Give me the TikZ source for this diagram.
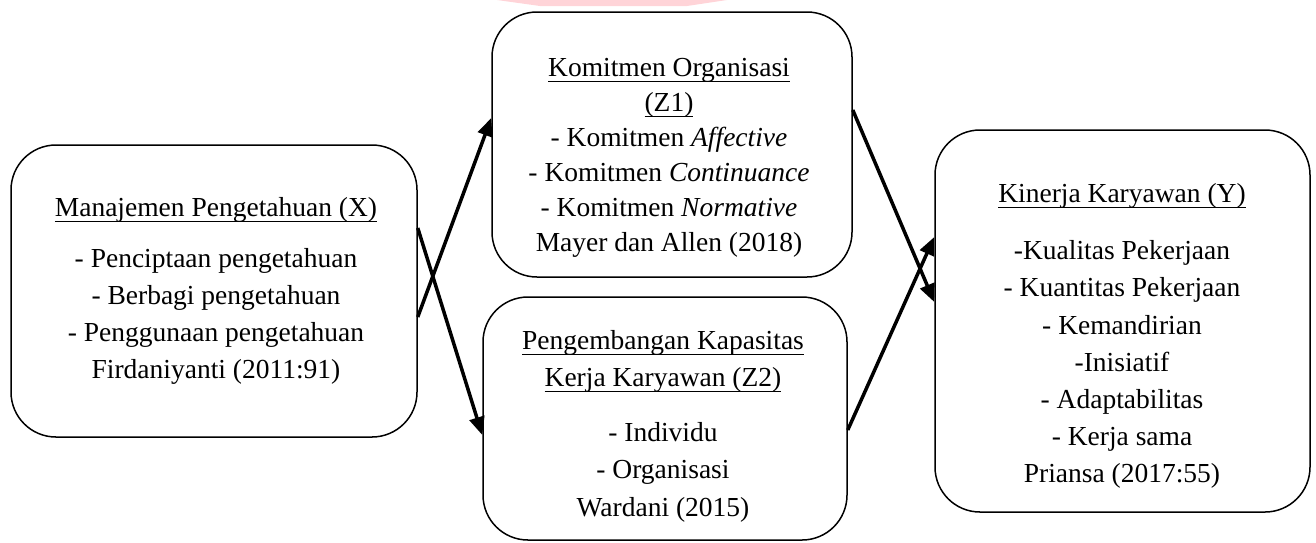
\documentclass[tikz,border=0pt]{standalone}
\usepackage{fontspec}
\setmainfont{Liberation Serif}
\newsavebox\myulbox
\newcommand\myul[1]{\sbox\myulbox{#1}\rlap{\rule[-6pt]{\wd\myulbox}{1.3pt}}\usebox\myulbox}
\usetikzlibrary{arrows.meta}
\definecolor{wm}{RGB}{255,212,216}
\begin{document}
\begin{tikzpicture}[x=1pt,y=-1pt,
  box/.style={draw, line width=1.5pt, rounded corners=45pt, inner sep=0pt},
  txt/.style={align=center, inner sep=0pt, font=\fontsize{27.5}{37.2}\selectfont},
  txtb/.style={align=center, inner sep=0pt, font=\fontsize{27.5}{35}\selectfont},
  arr/.style={line width=3.5pt, -{Triangle[length=18pt,width=15pt]}}]
\useasboundingbox (0,0) rectangle (1316,542);
\fill[wm] (497,0) -- (727,0) -- (687,6) -- (540,6) -- cycle;

\node[box, minimum width=406pt, minimum height=292pt] (X) at (214,291) {};
\node[box, minimum width=360pt, minimum height=265pt] (Z1) at (672,144.5) {};
\node[box, minimum width=364pt, minimum height=243pt] (Z2) at (665,418.5) {};
\node[box, minimum width=375pt, minimum height=382pt] (Y) at (1122.5,321) {};

\node[txt] (tX) at (216,291) {\myul{Manajemen Pengetahuan (X)}\\[14pt]
  - Penciptaan pengetahuan\\ - Berbagi pengetahuan\\
  - Penggunaan pengetahuan\\ Firdaniyanti (2011:91)};
\node[txtb] (tZ1) at (669,157.5) {\myul{Komitmen Organisasi}\\ \myul{(Z1)}\\
  - Komitmen \textit{Affective}\\ - Komitmen \textit{Continuance}\\
  - Komitmen \textit{Normative}\\ Mayer dan Allen (2018)};
\node[txt] (tZ2) at (663,426) {\myul{Pengembangan Kapasitas}\\ \myul{Kerja Karyawan (Z2)}\\[18pt]
  - Individu\\ - Organisasi\\ Wardani (2015)};
\node[txt] (tY) at (1122,336) {\myul{Kinerja Karyawan (Y)}\\[20pt]
  -Kualitas Pekerjaan\\ - Kuantitas Pekerjaan\\ - Kemandirian\\ -Inisiatif\\
  - Adaptabilitas\\ - Kerja sama\\ Priansa (2017:55)};

\draw[arr] (X.east |- 0,228) -- (Z2.west |- 0,435);
\draw[arr] (X.east |- 0,317) -- (Z1.west |- 0,118);
\draw[arr] (Z1.east |- 0,110) -- (Y.west |- 0,302);
\draw[arr] (Z2.east |- 0,430) -- (Y.west |- 0,237);
\end{tikzpicture}
\end{document}
